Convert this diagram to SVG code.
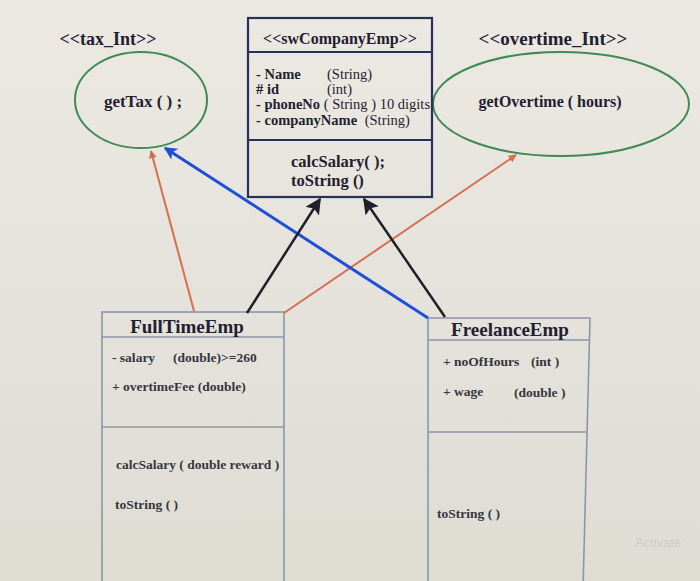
<svg xmlns="http://www.w3.org/2000/svg" width="700" height="581" viewBox="0 0 700 581">
<defs>
<linearGradient id="bg" x1="0" y1="0" x2="0" y2="1">
<stop offset="0" stop-color="#ebe9e2"/>
<stop offset="1" stop-color="#dfdcd4"/>
</linearGradient>
<marker id="ablack2" viewBox="0 0 10 10" refX="9" refY="5" markerWidth="16" markerHeight="16" markerUnits="userSpaceOnUse" orient="auto">
<path d="M0,0 L10,5 L0,10 L2,5 z" fill="#1e1f28"/>
</marker>
<marker id="ablue" viewBox="0 0 10 10" refX="9" refY="5" markerWidth="13" markerHeight="13" markerUnits="userSpaceOnUse" orient="auto">
<path d="M0,0 L10,5 L0,10 L2.5,5 z" fill="#1d4fd8"/>
</marker>
<marker id="aorange" viewBox="0 0 10 10" refX="9" refY="5" markerWidth="8" markerHeight="8" markerUnits="userSpaceOnUse" orient="auto">
<path d="M0,0 L10,5 L0,10 z" fill="#d4704f"/>
</marker>
<style>
.t{font-family:"Liberation Serif","Times New Roman",serif;fill:#1f2030;font-weight:bold}
.r{font-weight:normal}
.at{font-size:14.5px}
.me{font-size:16.5px}
.sm{font-size:13.5px;fill:#34363f}
.box1{fill:none;stroke:#26305a;stroke-width:2.2}
.box2{fill:none;stroke:#8d95aa;stroke-width:1.6}
.ell{fill:none;stroke:#3f8a55;stroke-width:2}
</style>
</defs>
<rect x="0" y="0" width="700" height="581" fill="url(#bg)"/>

<g id="tax_Int">
<text class="t" x="108" y="45" font-size="18" text-anchor="middle">&lt;&lt;tax_Int&gt;&gt;</text>
<ellipse class="ell" cx="141" cy="100" rx="66" ry="48"/>
<text class="t" x="143" y="107" font-size="17" text-anchor="middle">getTax ( ) ;</text>
</g>

<g id="overtime_Int">
<text class="t" x="553" y="45" font-size="19" text-anchor="middle">&lt;&lt;overtime_Int&gt;&gt;</text>
<ellipse class="ell" cx="561" cy="104" rx="128" ry="52"/>
<text class="t" x="550" y="107" font-size="16" text-anchor="middle">getOvertime ( hours)</text>
</g>

<g id="swCompanyEmp">
<rect class="box1" x="248" y="18" width="184" height="179" fill="#ecebe6"/>
<line class="box1" x1="248" y1="52" x2="432" y2="52" stroke="#2f3f8a"/>
<line class="box1" x1="248" y1="140" x2="432" y2="140" stroke="#2f3f8a"/>
<text class="t" x="340" y="44" font-size="16" text-anchor="middle">&lt;&lt;swCompanyEmp&gt;&gt;</text>
<text class="t at" x="256" y="79">- Name</text><text class="t at r" x="327" y="79">(String)</text>
<text class="t at" x="256" y="94"># id</text><text class="t at r" x="327" y="94">(int)</text>
<text class="t at" x="256" y="109">- phoneNo <tspan class="r">( String ) 10 digits</tspan></text>
<text class="t at" x="256" y="125">- companyName <tspan class="r" dx="4">(String)</tspan></text>
<text class="t me" x="291" y="167">calcSalary( );</text>
<text class="t me" x="291" y="186">toString  ()</text>
</g>

<g id="FullTimeEmp">
<rect class="box2" x="102" y="312" width="182" height="280"/>
<line class="box2" x1="102" y1="337" x2="284" y2="337"/>
<line class="box2" x1="102" y1="427" x2="284" y2="427"/>
<text class="t" x="187" y="333" font-size="19" text-anchor="middle">FullTimeEmp</text>
<text class="t sm" x="112" y="362">- salary</text><text class="t sm" x="173" y="362">(double)&gt;=260</text>
<text class="t sm" x="112" y="391">+ overtimeFee (double)</text>
<text class="t sm" x="116" y="469">calcSalary ( double reward )</text>
<text class="t sm" x="115" y="509">toString ( )</text>
</g>

<g id="FreelanceEmp">
<path class="box2" d="M428,318 L590,318 L583,590 M428,318 L428,590"/>
<line class="box2" x1="428" y1="340" x2="589" y2="340"/>
<line class="box2" x1="428" y1="432" x2="586" y2="432"/>
<text class="t" x="510" y="336" font-size="19" text-anchor="middle">FreelanceEmp</text>
<text class="t sm" x="443" y="366">+ noOfHours</text><text class="t sm" x="531" y="366">(int )</text>
<text class="t sm" x="443" y="396">+ wage</text><text class="t sm" x="514" y="397">(double )</text>
<text class="t sm" x="437" y="518">toString ( )</text>
</g>

<g id="connectors">
<line x1="194" y1="311" x2="151" y2="151" stroke="#d4704f" stroke-width="2" marker-end="url(#aorange)"/>
<line x1="284" y1="313" x2="516" y2="155" stroke="#d4704f" stroke-width="2" marker-end="url(#aorange)"/>
<line x1="428" y1="318" x2="165" y2="148" stroke="#1d4fd8" stroke-width="3" marker-end="url(#ablue)"/>
<line x1="247" y1="313" x2="320" y2="199" stroke="#1e1f28" stroke-width="2.5" marker-end="url(#ablack2)"/>
<line x1="445" y1="317" x2="364" y2="199" stroke="#1e1f28" stroke-width="2.5" marker-end="url(#ablack2)"/>
</g>

<text x="635" y="547" font-family="Liberation Sans, Arial, sans-serif" font-size="13" fill="#cfccc6">Activate</text>
</svg>
